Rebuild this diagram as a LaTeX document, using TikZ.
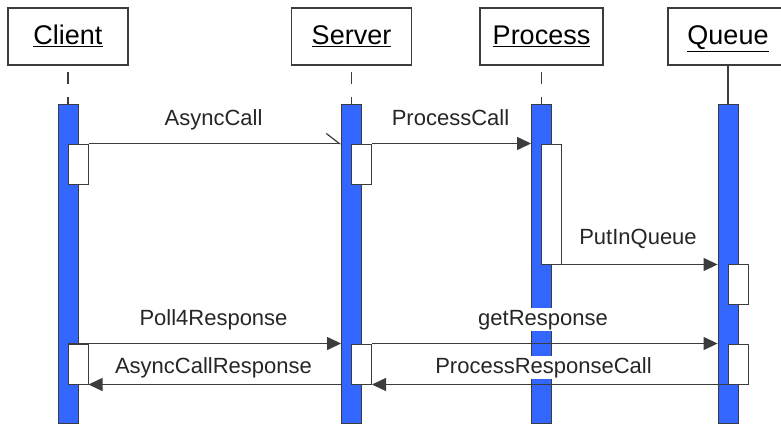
\documentclass[tikz,border=0pt]{standalone}
\usepackage{fontspec}
\setmainfont{Liberation Sans}
\usetikzlibrary{arrows.meta}
\definecolor{barblue}{RGB}{51,102,255}
\definecolor{ink}{RGB}{60,60,60}
\tikzset{
  hdr/.style={draw=ink, line width=1.1pt, fill=white, minimum width=120pt, minimum height=57pt,
    inner sep=0pt, text height=19pt, text depth=3pt, font=\fontsize{27}{30}\selectfont},
  lifebar/.style={draw=ink, line width=0.9pt, fill=barblue, minimum width=20pt, minimum height=319pt, inner sep=0pt},
  actbox/.style={draw=ink, line width=1pt, fill=white, minimum width=20pt, inner sep=0pt},
  life/.style={ink, line width=1.2pt},
  dlife/.style={life, dash pattern=on 12pt off 13pt, dash phase=19pt},
  msg/.style={ink, line width=1.3pt, -{Triangle[length=14pt,width=13pt]}},
  amsg/.style={ink, line width=1.3pt, -{Straight Barb[harpoon,length=13pt,width=20pt,line width=1.2pt]}},
  lbl/.style={fill=white, inner sep=1.5pt, anchor=base, font=\fontsize{22}{24}\selectfont, text=black!85}
}
\begin{document}
\begin{tikzpicture}[x=1pt,y=-1pt]
\useasboundingbox (0,0) rectangle (781,425);
\fill[white] (0,0) rectangle (781,425);
% headers
\node[hdr] (client) at (68,36.5) {\underline{Client}};
\node[hdr] (server) at (351.5,36.5) {\underline{Server}};
\node[hdr, minimum width=123pt] (process) at (541.5,36.5) {\underline{Process}};
\node[hdr] (queue) at (728,36.5) {\underline{Queue}};
% bars
\node[lifebar] (cbar) at (68,263.5) {};
\node[lifebar] (sbar) at (351.5,263.5) {};
\node[lifebar] (pbar) at (541.5,263.5) {};
\node[lifebar] (qbar) at (728,263.5) {};
% lifelines
\draw[dlife] (client.south) -- (cbar.north);
\draw[dlife] (server.south) -- (sbar.north);
\draw[dlife] (process.south) -- (pbar.north);
\draw[life] (queue.south) -- (qbar.north);
% activations
\node[actbox, minimum height=40pt] (ca1) at (78,164) {};
\node[actbox, minimum height=40pt] (sa1) at (361.5,164) {};
\node[actbox, minimum height=120pt] (pa) at (551.5,204) {};
\node[actbox, minimum height=40pt] (qa1) at (738,284) {};
\node[actbox, minimum height=40pt] (ca2) at (78,364) {};
\node[actbox, minimum height=40pt] (sa2) at (361.5,364) {};
\node[actbox, minimum height=40pt] (qa2) at (738,364) {};
% messages
\draw[amsg] (ca1.north east) -- (sbar.west |- ca1.north);
\draw[msg] (sa1.north east) -- (pbar.west |- sa1.north);
\draw[msg] (pa.south west) -- (qbar.west |- pa.south);
\draw[msg] (ca2.north west) -- (sbar.west |- ca2.north);
\draw[msg] (sbar.west |- ca2.south) -- (ca2.south east);
\draw[msg] (sa2.north east) -- (qbar.west |- sa2.north);
\draw[msg] (qa2.south west) -- (sa2.south east);
% labels
\node[lbl] (l1) at (213.5,125) {AsyncCall};
\node[lbl] (l2) at (450.5,125) {ProcessCall};
\node[lbl] (l3) at (638,244) {PutInQueue};
\node[lbl] (l4) at (213.5,325) {Poll4Response};
\node[lbl] (l5) at (213.5,373) {AsyncCallResponse};
\node[lbl] (l6) at (543,325) {getResponse};
\node[lbl] (l7) at (543.5,373) {ProcessResponseCall};
\end{tikzpicture}
\end{document}
